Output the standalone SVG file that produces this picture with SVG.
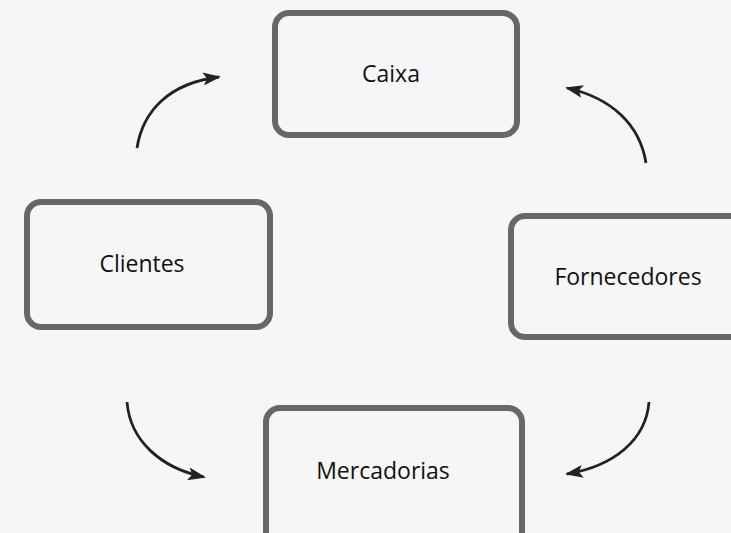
<svg xmlns="http://www.w3.org/2000/svg" width="731" height="533" viewBox="0 0 731 533">
<defs>
<style>
.box{fill:none;stroke:#676767;stroke-width:6}
.lbl{font-family:"Open Sans","Noto Sans",sans-serif;font-size:23px;fill:#111;text-anchor:middle}
.arr{fill:none;stroke:#222;stroke-width:2.8;marker-end:url(#ah)}
</style>
<marker id="ah" viewBox="0 0 18 13" refX="16" refY="6.5" markerWidth="18" markerHeight="13" markerUnits="userSpaceOnUse" orient="auto">
<path d="M0,0 L18,6.5 L0,13 L4,6.5 Z" fill="#222"/>
</marker>
</defs>
<rect width="731" height="533" fill="#f6f6f6"/>
<g id="caixa"><rect class="box" x="275" y="13" width="242" height="122" rx="14"/><text class="lbl" x="391" y="82">Caixa</text></g>
<g id="clientes"><rect class="box" x="27" y="202" width="243" height="125" rx="14"/><text class="lbl" x="142" y="272">Clientes</text></g>
<g id="fornecedores"><rect class="box" x="511" y="216" width="245" height="121" rx="14"/><text class="lbl" x="628" y="285">Fornecedores</text></g>
<g id="mercadorias"><rect class="box" x="266" y="408" width="256" height="140" rx="14"/><text class="lbl" x="383" y="479">Mercadorias</text></g>
<g id="connectors">
<path class="arr" d="M137,148 C143,110 170,83 219,77"/>
<path class="arr" d="M646,163 C640,125 612,98 567,88"/>
<path class="arr" d="M127,402 C130,440 160,468 204,477"/>
<path class="arr" d="M649,402 C646,440 614,466 567,474"/>
</g>
</svg>
